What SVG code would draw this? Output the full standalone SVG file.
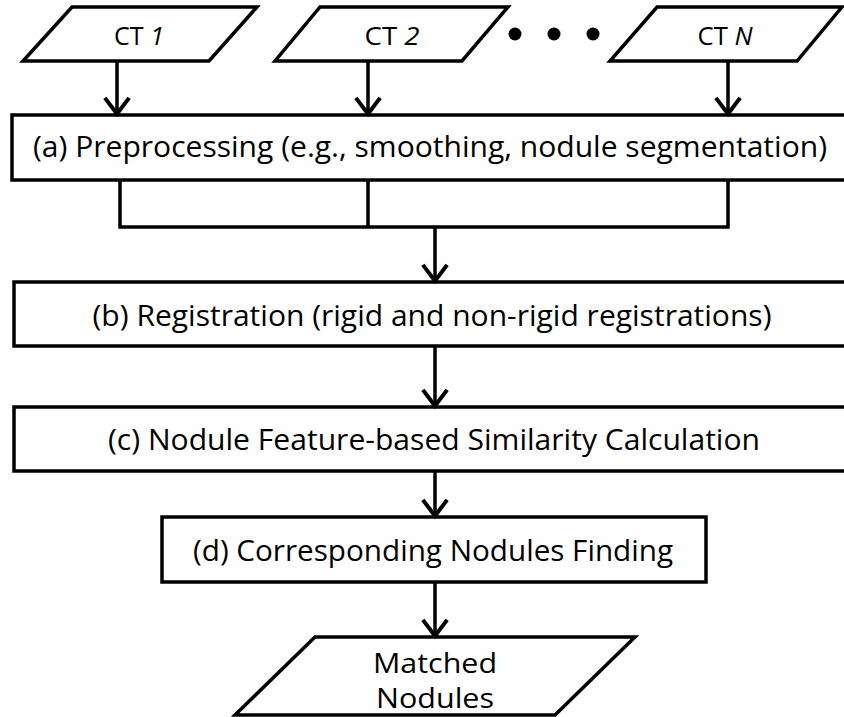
<svg xmlns="http://www.w3.org/2000/svg" width="844" height="717" viewBox="0 0 844 717">
  <style>
    .shape { fill: #ffffff; stroke: #000000; stroke-width: 3.5; stroke-linejoin: miter; }
    .wire { fill: none; stroke: #000000; stroke-width: 3.5; }
    .label { font-family: "Open Sans", "Liberation Sans", sans-serif; fill: #000000; text-anchor: middle; }
    .step { font-size: 29px; }
    .io { font-size: 25px; }
    .out { font-size: 28px; }
  </style>
  <defs>
    <marker id="chevron" markerUnits="userSpaceOnUse" markerWidth="30" markerHeight="30" viewBox="-16 -13 20 26" refX="0" refY="0" orient="auto">
      <path d="M-14,-10.5 L0,0 L-14,10.5" fill="none" stroke="#000000" stroke-width="3.5"/>
    </marker>
  </defs>
  <rect width="844" height="717" fill="#ffffff"/>

  <!-- inputs -->
  <g id="ct1">
    <polygon class="shape" points="72,7 257,7 209,61 23,61"/>
    <text class="label io" x="139" y="45" textLength="50" lengthAdjust="spacingAndGlyphs">CT <tspan font-style="italic">1</tspan></text>
  </g>
  <g id="ct2">
    <polygon class="shape" points="320,7 508,7 462,61 275,61"/>
    <text class="label io" x="392" y="45" textLength="55" lengthAdjust="spacingAndGlyphs">CT <tspan font-style="italic">2</tspan></text>
  </g>
  <g id="ellipsis">
    <circle cx="515" cy="34" r="6.5" fill="#000000"/>
    <circle cx="554" cy="34" r="6.5" fill="#000000"/>
    <circle cx="593" cy="34" r="6.5" fill="#000000"/>
  </g>
  <g id="ctN">
    <polygon class="shape" points="657,7 842,7 797,61 610,61"/>
    <text class="label io" x="725" y="45" textLength="55" lengthAdjust="spacingAndGlyphs">CT <tspan font-style="italic">N</tspan></text>
  </g>

  <!-- processing steps -->
  <g id="preprocessing">
    <rect class="shape" x="12" y="115" width="845" height="65"/>
    <text class="label step" x="430" y="157" textLength="794" lengthAdjust="spacingAndGlyphs">(a) Preprocessing (e.g., smoothing, nodule segmentation)</text>
  </g>
  <g id="registration">
    <rect class="shape" x="14" y="282" width="841" height="64"/>
    <text class="label step" x="432" y="326" textLength="679" lengthAdjust="spacingAndGlyphs">(b) Registration (rigid and non-rigid registrations)</text>
  </g>
  <g id="similarity">
    <rect class="shape" x="14" y="407" width="841" height="64"/>
    <text class="label step" x="434" y="450" textLength="652" lengthAdjust="spacingAndGlyphs">(c) Nodule Feature-based Similarity Calculation</text>
  </g>
  <g id="matching">
    <rect class="shape" x="162" y="517" width="544" height="65"/>
    <text class="label step" x="433" y="561" textLength="480" lengthAdjust="spacingAndGlyphs">(d) Corresponding Nodules Finding</text>
  </g>

  <!-- output -->
  <g id="matched-nodules">
    <polygon class="shape" points="315,637 635,637 555,715 235,715"/>
    <text class="label out" x="435" y="673" textLength="124" lengthAdjust="spacingAndGlyphs">Matched</text>
    <text class="label out" x="435" y="708" textLength="118" lengthAdjust="spacingAndGlyphs">Nodules</text>
  </g>

  <!-- connectors -->
  <g id="connectors">
    <line class="wire" x1="117" y1="61" x2="117" y2="114" marker-end="url(#chevron)"/>
    <line class="wire" x1="368" y1="61" x2="368" y2="114" marker-end="url(#chevron)"/>
    <line class="wire" x1="728" y1="61" x2="728" y2="114" marker-end="url(#chevron)"/>
    <polyline class="wire" points="120,180 120,227 728,227 728,180"/>
    <line class="wire" x1="368" y1="180" x2="368" y2="227"/>
    <line class="wire" x1="435" y1="227" x2="435" y2="281" marker-end="url(#chevron)"/>
    <line class="wire" x1="435" y1="346" x2="435" y2="406" marker-end="url(#chevron)"/>
    <line class="wire" x1="435" y1="471" x2="435" y2="516" marker-end="url(#chevron)"/>
    <line class="wire" x1="435" y1="582" x2="435" y2="636" marker-end="url(#chevron)"/>
  </g>
</svg>
